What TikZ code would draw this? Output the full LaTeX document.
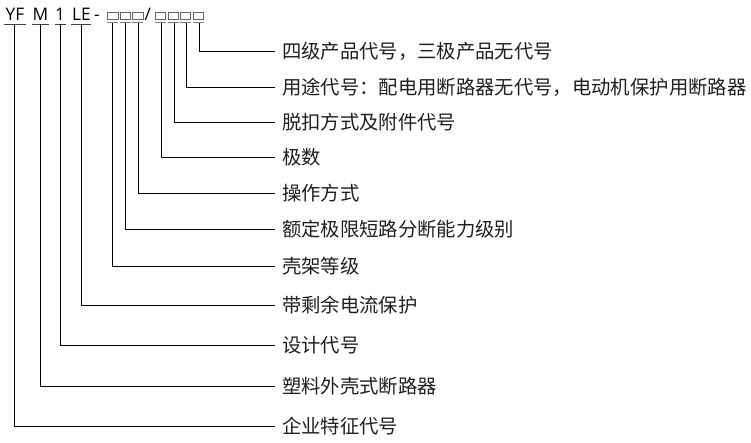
\documentclass[tikz,border=0pt]{standalone}
\usepackage{fontspec}
\newfontfamily\cjk{Noto Sans CJK SC}
\newfontfamily\lat{Open Sans}
\begin{document}
\begin{tikzpicture}[x=1pt,y=-1pt,
  lbl/.style={anchor=west, inner sep=0pt, outer xsep=7pt, text height=16.7pt, text depth=2.3pt,
    font=\cjk\fontsize{19.35}{19.35}\selectfont, text=black!88},
  ttl/.style={anchor=base, inner sep=0pt, font=\lat\fontsize{17.3}{17.3}\selectfont, text=black},
  bx/.style={draw=black!60, line width=0.85pt, minimum width=10.5pt, minimum height=7.5pt, inner sep=0pt},
  uline/.style={draw=black!75, line width=0.9pt},
  bline/.style={draw=black!50, line width=0.9pt},
  conn/.style={draw=black, line width=0.9pt}]
\useasboundingbox (0,0) rectangle (751,442);
% title
\node[ttl] (yf) at (15,20.5) {YF};
\node[ttl] (m) at (40.5,20.5) {M};
\node[ttl] (one) at (60,20.5) {1};
\node[ttl] (le) at (81.5,20.5) {LE};
\node[ttl] (dash) at (97,20.5) {-};
\node[ttl] (sl) at (147.8,20.5) {/};
\foreach \n/\x in {b1/112.7,b2/125.4,b3/137.7,b4/160.5,b5/173.2,b6/185.5,b7/198.3}{
  \node[bx] (\n) at (\x,16) {};
  \draw[bline] (\x-5.5,22.8) -- (\x+5.5,22.8);
}
\draw[uline] (4,24) -- (26,24);
\draw[uline] (31.7,24) -- (49,24);
\draw[uline] (54.5,24) -- (65.5,24);
\draw[uline] (71,24) -- (91,24);
% top coordinates
\coordinate (t1) at (14.5,24);
\coordinate (t2) at (40.7,24);
\coordinate (t3) at (60.3,24);
\coordinate (t4) at (81.7,24);
\coordinate (t5) at (112.7,22.8);
\coordinate (t6) at (125.7,22.8);
\coordinate (t7) at (138.3,22.8);
\coordinate (t8) at (161,22.8);
\coordinate (t9) at (174,22.8);
\coordinate (t10) at (186,22.8);
\coordinate (t11) at (199.3,22.8);
% labels
\node[lbl] (l11) at (275,51) {四级产品代号，三极产品无代号};
\node[lbl] (l10) at (275,87) {用途代号：配电用断路器无代号，电动机保护用断路器};
\node[lbl] (l9) at (275,122) {脱扣方式及附件代号};
\node[lbl] (l8) at (275,157) {极数};
\node[lbl] (l7) at (275,193) {操作方式};
\node[lbl] (l6) at (275,229) {额定极限短路分断能力级别};
\node[lbl] (l5) at (275,266) {壳架等级};
\node[lbl] (l4) at (275,305) {带剩余电流保护};
\node[lbl] (l3) at (275,345) {设计代号};
\node[lbl] (l2) at (275,386) {塑料外壳式断路器};
\node[lbl] (l1) at (275,426) {企业特征代号};
\foreach \i in {1,...,11}{
  \draw[conn] (t\i) |- (l\i.west);
}
\end{tikzpicture}
\end{document}
